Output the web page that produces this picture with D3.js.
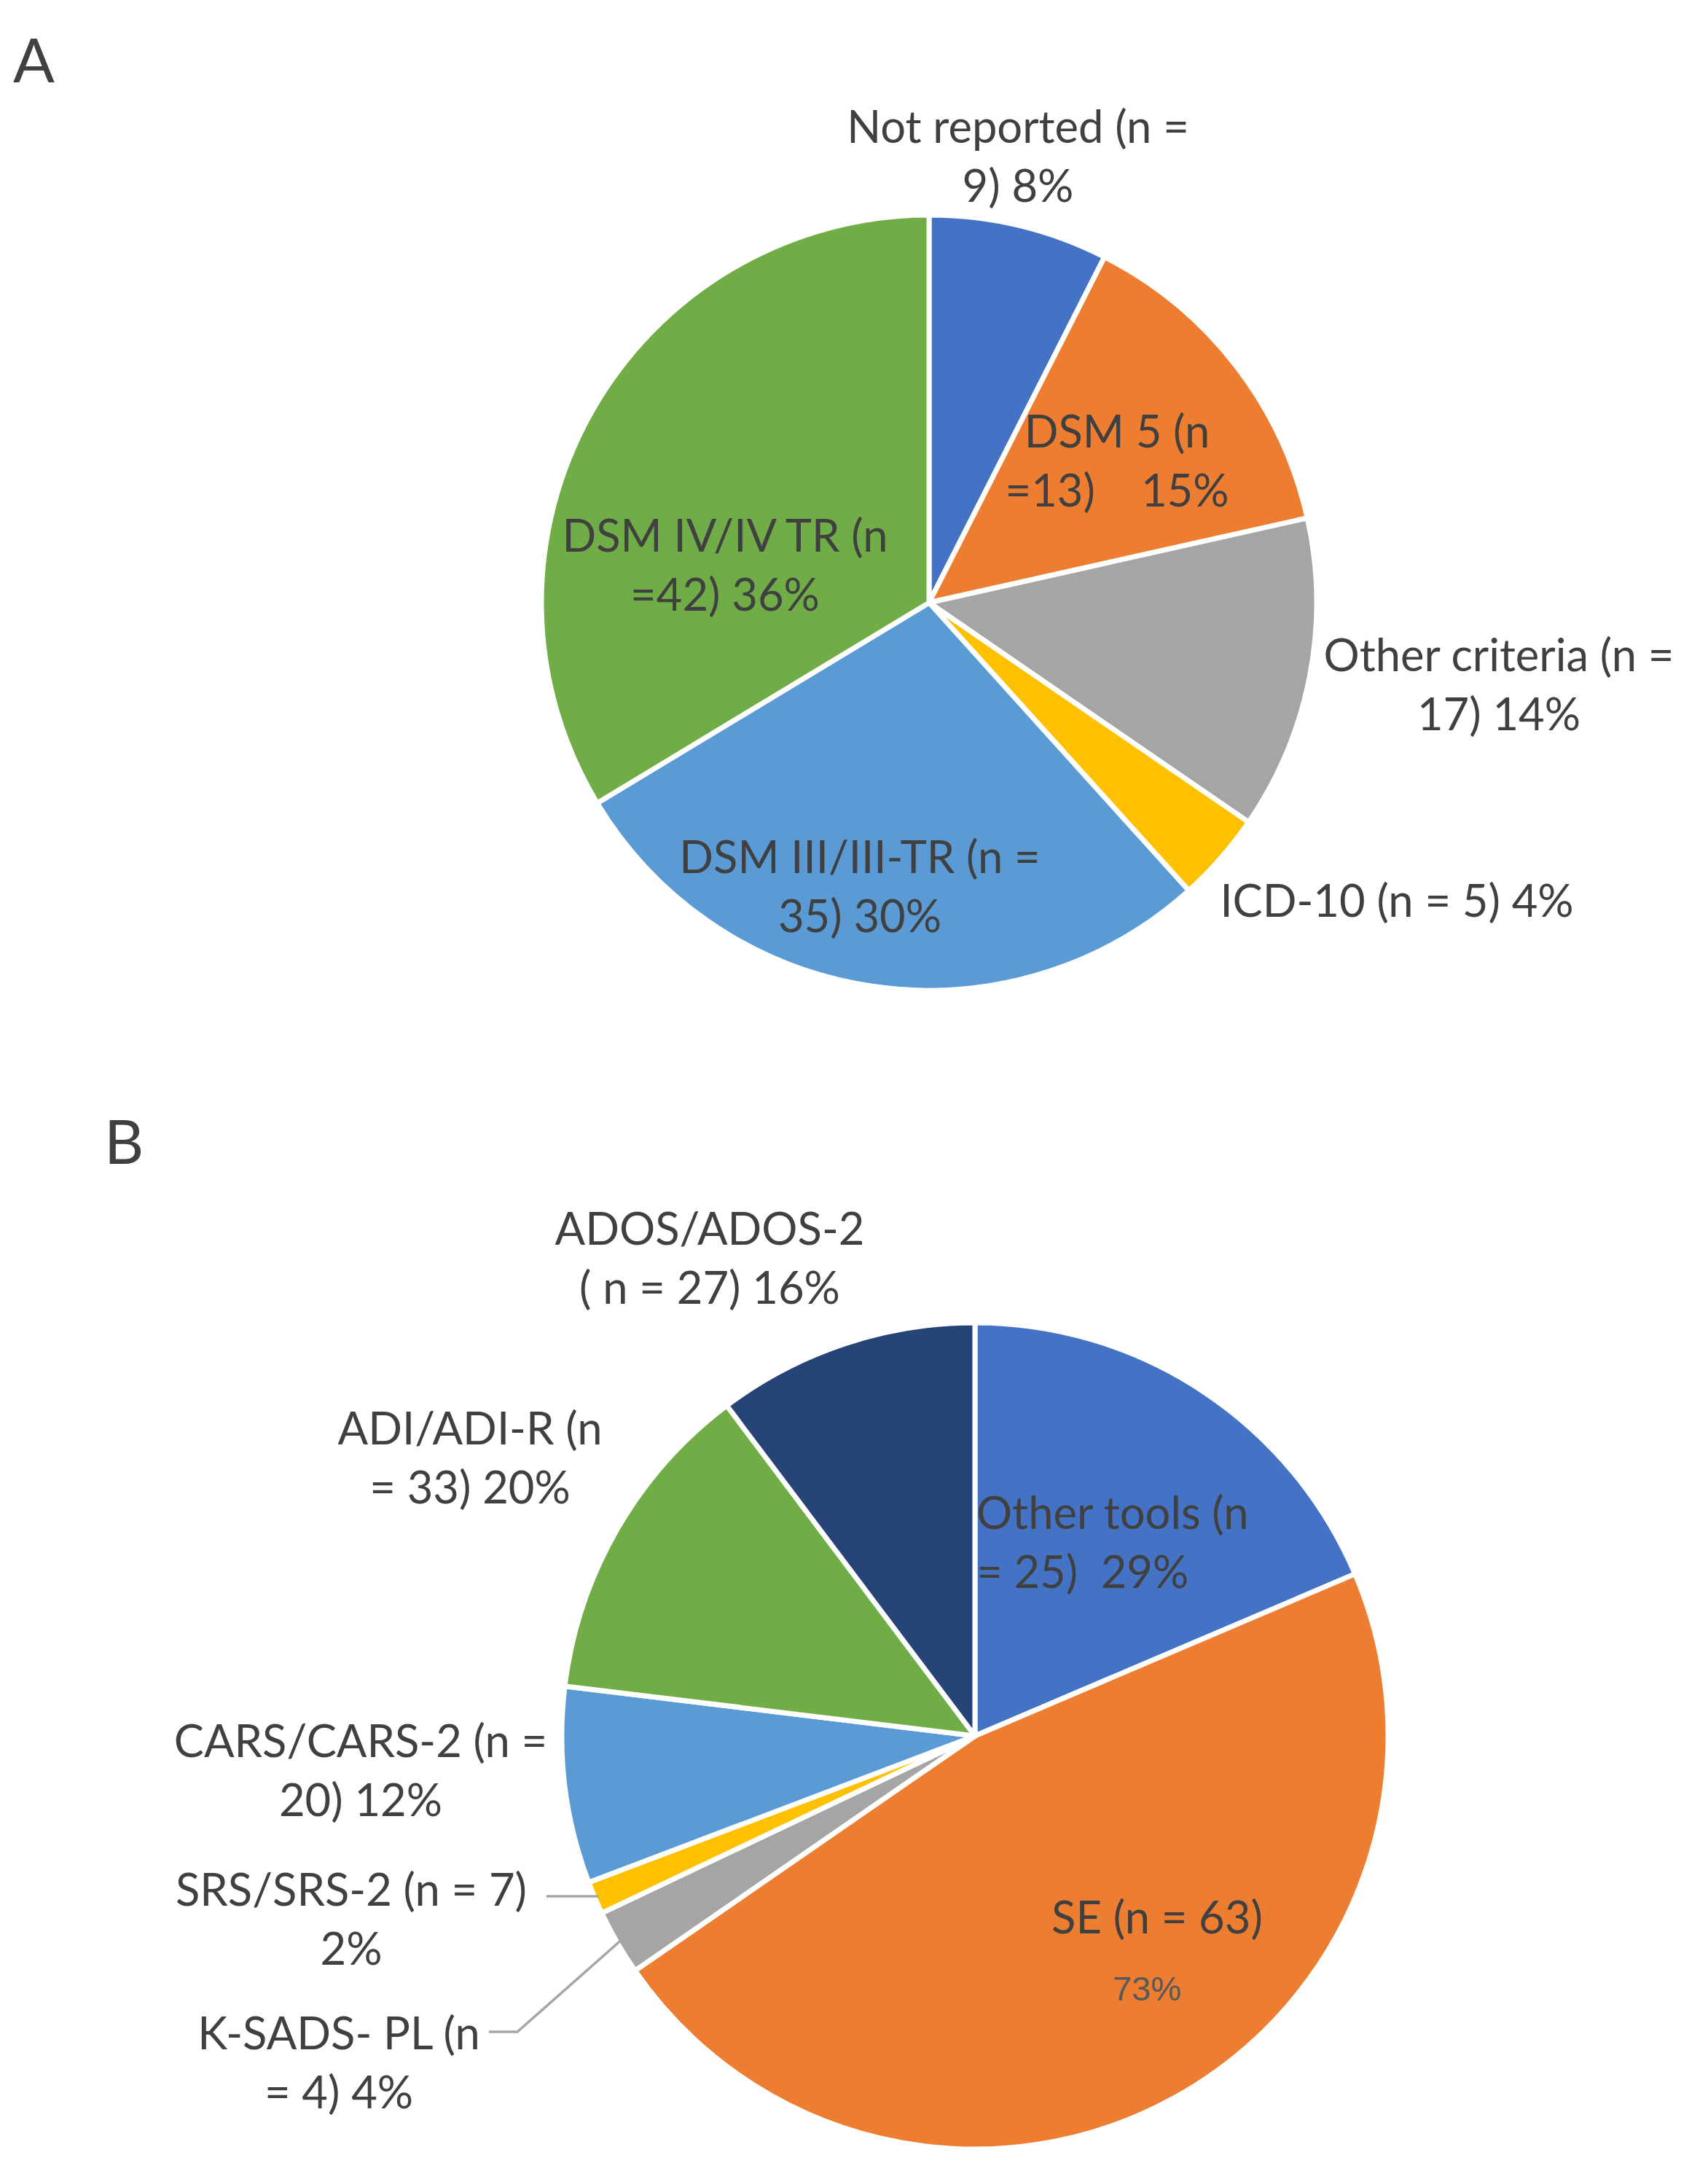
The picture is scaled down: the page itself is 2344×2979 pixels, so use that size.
<!DOCTYPE html>
<html><head><meta charset="utf-8">
<script src="https://cdn.jsdelivr.net/npm/d3@7"></script>
<style>
html,body{margin:0;padding:0;background:#fff;}
svg{display:block;}
</style></head>
<body>
<svg id="chart" width="2344" height="2979"></svg>
<script>
// ---------- Data: panel A (diagnostic criteria) ----------
const catsA   = ["Not reported", "DSM 5", "Other criteria", "ICD-10", "DSM III/III-TR", "DSM IV/IV TR"];
const nA      = [9, 13, 17, 5, 35, 42];
const pctA    = [8, 15, 14, 4, 30, 36];
const labelsA = [
  ["Not reported (n =", "9) 8%"],
  ["DSM 5 (n", "=13)    15%"],
  ["Other criteria (n =", "17) 14%"],
  ["ICD-10 (n = 5) 4%"],
  ["DSM III/III-TR (n =", "35) 30%"],
  ["DSM IV/IV TR (n", "=42) 36%"]
];
const colorsA = ["#4472C4", "#ED7D31", "#A5A5A5", "#FFC000", "#5B9BD5", "#70AD47"];

// ---------- Data: panel B (diagnostic tools) ----------
const catsB   = ["Other tools", "SE", "K-SADS- PL", "SRS/SRS-2", "CARS/CARS-2", "ADI/ADI-R", "ADOS/ADOS-2"];
const nB      = [25, 63, 4, 7, 20, 33, 27];
const pctB    = [29, 73, 4, 2, 12, 20, 16];
const labelsB = [
  ["Other tools (n", "= 25)  29%"],
  ["SE (n = 63)"],
  ["K-SADS- PL (n", "= 4) 4%"],
  ["SRS/SRS-2 (n = 7)", "2%"],
  ["CARS/CARS-2 (n =", "20) 12%"],
  ["ADI/ADI-R (n", "= 33) 20%"],
  ["ADOS/ADOS-2", "( n = 27) 16%"]
];
const colorsB = ["#4472C4", "#ED7D31", "#A5A5A5", "#FFC000", "#5B9BD5", "#70AD47", "#264478"];

// ---------- Layout (positions kept separate from data) ----------
const FONT = "Lato, 'Open Sans', sans-serif";
const TXT = "#404040";
const LINE_H = 81;
const FS = 61.5;

const panelA = {cx: 1275, cy: 827, r: 532,
  lab: [{dx:122,dy:-615},{dx:258,dy:-197},{dx:782,dy:110},{dx:642,dy:407},{dx:-95,dy:387},{dx:-280,dy:-54}]
};
const panelB = {cx: 1338, cy: 2382, r: 567,
  lab: [{dx:2,dy:-268,anchor:"start"},{dx:250,dy:247},{dx:-873,dy:446},{dx:-856,dy:249},{dx:-843,dy:45},{dx:-693,dy:-384},{dx:-364,dy:-658}],
  leader: [null,null,{x0:-667,y0:406,x1:-628,y1:406},{x0:-588,y0:220,x1:-552,y1:220},null,null,null]
};

const svg = d3.select("#chart");

function drawPie(panel, vals, cols, labels, extra) {
  const g = svg.append("g").attr("transform", `translate(${panel.cx},${panel.cy})`);
  const pie = d3.pie().sort(null).value(d => d)(vals);
  const arc = d3.arc().innerRadius(0).outerRadius(panel.r);
  g.selectAll("path.slice").data(pie).join("path")
    .attr("class","slice")
    .attr("d", arc)
    .attr("fill", (d,i) => cols[i])
    .attr("stroke", "#fff")
    .attr("stroke-width", 7)
    .attr("stroke-linejoin", "round");

  if (panel.leader) {
    pie.forEach((d,i) => {
      const L = panel.leader[i];
      if (!L) return;
      const mid = (d.startAngle + d.endAngle) / 2;
      const ex = (panel.r - 6) * Math.sin(mid), ey = -(panel.r - 6) * Math.cos(mid);
      g.append("polyline")
        .attr("points", `${L.x0},${L.y0} ${L.x1},${L.y1} ${ex},${ey}`)
        .attr("fill","none").attr("stroke","#A6A6A6").attr("stroke-width",3.5);
    });
  }

  labels.forEach((lines, i) => {
    const p = panel.lab[i];
    const t = g.append("text")
      .attr("font-family", FONT).attr("font-size", FS).attr("fill", TXT)
      .attr("text-anchor", p.anchor || "middle");
    const n = lines.length;
    lines.forEach((ln, k) => {
      t.append("tspan")
        .attr("x", p.dx)
        .attr("y", p.dy + (k - (n - 1) / 2) * LINE_H)
        .attr("dominant-baseline", "central")
        .attr("xml:space", "preserve")
        .style("white-space", "pre")
        .text(ln);
    });
  });
  if (extra) extra(g, pie);
}

drawPie(panelA, pctA, colorsA, labelsA);
drawPie(panelB, pctB, colorsB, labelsB, (g) => {
  g.append("text")
    .attr("x", 236).attr("y", 346)
    .attr("dominant-baseline","central")
    .attr("text-anchor","middle")
    .attr("font-family","'Liberation Sans', Arial, sans-serif")
    .attr("font-size", 47)
    .attr("fill", "#595959")
    .text(pctB[1] + "%");
});

// panel letters
svg.append("text").attr("x", 18).attr("y", 113)
  .attr("font-family", FONT).attr("font-size", 84).attr("fill", TXT).text("A");
svg.append("text").attr("x", 143).attr("y", 1597)
  .attr("font-family", FONT).attr("font-size", 84).attr("fill", TXT).text("B");
</script>
</body></html>
